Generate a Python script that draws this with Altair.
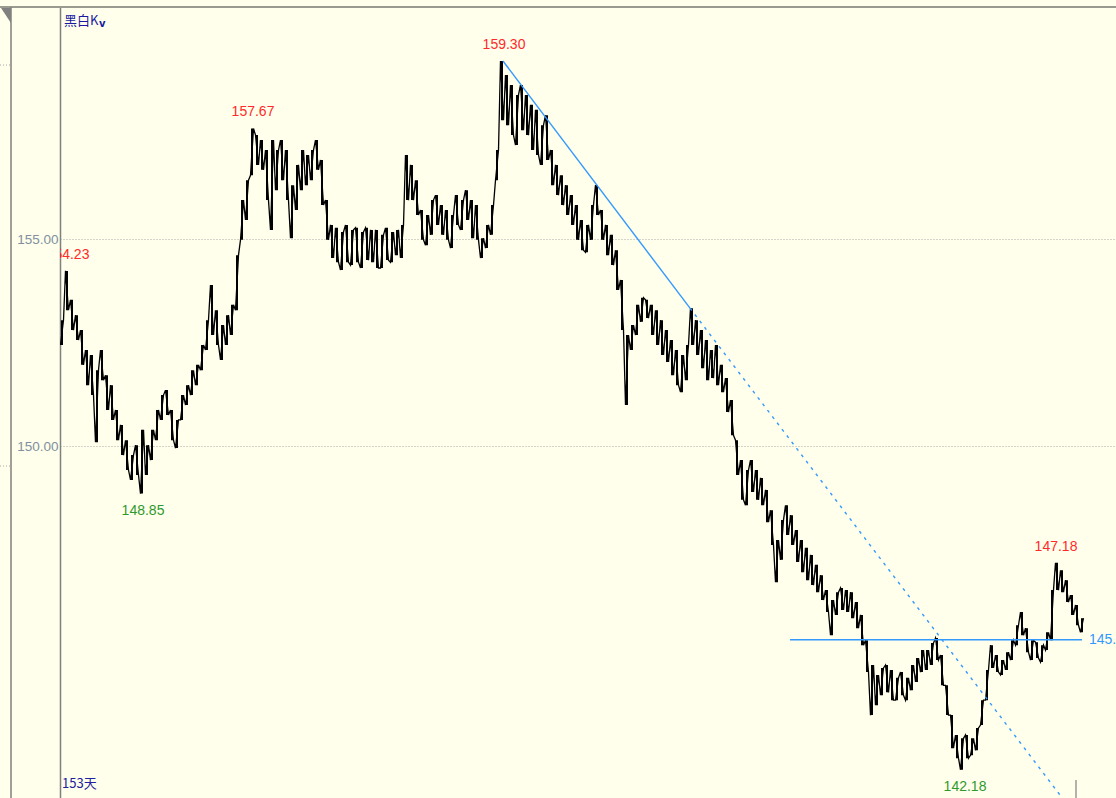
import altair as alt
import pandas as pd

# ---- price bars (high / low), one bar per step ----
high = [153.04, 154.23, 153.53, 153.16, 152.80, 152.32, 152.20, 151.83, 152.32, 151.71,
        151.47, 150.87, 150.51, 150.14, 149.78, 150.02, 150.39, 150.02, 150.39, 150.87,
        151.23, 151.35, 150.87, 150.63, 151.23, 151.47, 151.83, 151.96, 152.44, 153.04,
        153.89, 153.28, 152.92, 153.16, 153.41, 154.61, 155.94, 156.42, 157.67, 157.51,
        157.39, 157.15, 157.39, 157.15, 157.39, 157.15, 156.30, 156.79, 157.15, 157.03,
        157.15, 157.39, 156.91, 155.94, 155.34, 155.27, 155.17, 155.34, 155.22, 155.27,
        155.17, 155.27, 155.22, 155.22, 155.10, 155.27, 155.17, 155.22, 155.34, 157.03,
        156.79, 156.42, 155.70, 155.58, 155.94, 156.06, 155.82, 155.70, 155.58, 156.06,
        155.94, 156.18, 155.94, 155.82, 155.02, 155.34, 155.82, 157.15, 159.30, 158.96,
        158.72, 158.48, 158.72, 158.48, 158.24, 158.12, 157.75, 157.99, 157.15, 156.79,
        156.54, 156.30, 156.06, 155.82, 155.46, 155.34, 155.82, 156.30, 155.70, 155.34,
        155.10, 154.73, 154.01, 152.68, 152.92, 153.41, 153.58, 153.53, 153.41, 153.28,
        153.04, 152.80, 152.56, 152.32, 152.20, 152.44, 153.33, 153.04, 152.80, 152.56,
        152.32, 152.44, 151.96, 151.64, 151.11, 150.14, 149.66, 149.42, 149.66, 149.42,
        149.23, 148.94, 148.45, 147.73, 148.21, 148.57, 148.33, 147.97, 147.73, 147.54,
        147.37, 147.13, 146.88, 146.52, 146.28, 146.47, 146.57, 146.52, 146.47, 146.23,
        145.92, 145.31, 144.71, 144.47, 144.64, 144.71, 144.59, 144.40, 144.54, 144.40,
        144.71, 144.88, 145.07, 145.07, 145.24, 145.36, 144.95, 144.22, 143.50, 143.02,
        142.94, 143.02, 142.94, 143.19, 143.86, 144.59, 145.19, 144.95, 144.83, 145.02,
        145.31, 145.67, 145.99, 145.60, 145.31, 145.26, 145.19, 145.50, 146.52, 147.18,
        147.00, 146.76, 146.40, 146.16, 145.84]
low = [152.44, 153.28, 152.80, 152.56, 151.96, 151.47, 151.23, 150.09, 151.59, 150.87,
       150.63, 150.14, 149.78, 149.42, 149.18, 149.30, 148.85, 149.30, 149.66, 150.14,
       150.63, 150.75, 150.14, 149.95, 150.63, 150.99, 151.23, 151.47, 151.83, 152.32,
       152.68, 152.44, 152.08, 152.44, 152.68, 153.28, 154.98, 155.46, 156.54, 156.79,
       156.67, 155.94, 155.22, 156.18, 156.42, 155.94, 155.02, 155.70, 156.18, 156.30,
       156.42, 156.67, 155.82, 154.98, 154.54, 154.44, 154.25, 154.44, 154.37, 154.44,
       154.30, 154.49, 154.44, 154.30, 154.30, 154.49, 154.44, 154.61, 154.54, 155.94,
       155.94, 155.58, 154.98, 154.85, 155.10, 155.34, 155.10, 154.98, 154.78, 155.34,
       155.22, 155.46, 155.02, 154.98, 154.54, 154.78, 155.10, 156.42, 157.87, 157.75,
       157.51, 157.27, 157.63, 157.51, 157.15, 157.03, 156.79, 156.91, 156.30, 156.06,
       155.82, 155.58, 155.34, 154.98, 154.73, 154.68, 154.98, 155.58, 154.98, 154.61,
       154.37, 153.77, 152.80, 150.99, 152.32, 152.68, 153.00, 153.09, 152.68, 152.44,
       152.20, 152.03, 151.71, 151.47, 151.30, 151.59, 152.44, 152.20, 151.88, 151.59,
       151.64, 151.47, 151.30, 150.82, 150.26, 149.30, 148.70, 148.57, 148.89, 148.70,
       148.57, 148.16, 147.61, 146.71, 147.25, 147.85, 147.61, 147.20, 146.95, 146.76,
       146.64, 146.47, 146.28, 145.99, 145.43, 145.92, 146.04, 145.99, 145.84, 145.60,
       145.19, 144.54, 143.50, 143.74, 143.98, 144.05, 143.86, 143.86, 143.98, 143.86,
       144.10, 144.30, 144.54, 144.59, 144.71, 144.83, 144.22, 143.50, 142.70, 142.46,
       142.18, 142.46, 142.53, 142.65, 143.26, 143.86, 144.64, 144.54, 144.47, 144.59,
       144.83, 145.19, 145.43, 145.02, 144.83, 144.88, 144.78, 145.07, 145.31, 146.52,
       146.47, 146.23, 145.92, 145.67, 145.50]

# annotations: bar index, price, text, placement
ann_idx = [1.2, 38.2, 88.4, 16.2, 180.6, 198.8]
ann_price = [154.23, 157.67, 159.30, 148.85, 142.18, 147.18]
ann_text = ["154.23", "157.67", "159.30", "148.85", "142.18", "147.18"]
ann_pos = ["above", "above", "above", "below", "below", "above"]

# trend line (from the 159.30 high) and horizontal support line
trend_idx = [88.2, 125.6, 199.6]
trend_price = [159.30, 153.33, 141.57]
hline_idx = [145.6, 204.0]
hline_price = 145.32
hline_label = "145.32"

n = len(high)
bars = pd.DataFrame({"i": list(range(n)), "high": high, "low": low})

# zigzag trace through each bar's extremes
rows = []
seq = 0
for k in range(n):
    mid = (high[k] + low[k]) / 2
    nxt = (high[k + 1] + low[k + 1]) / 2 if k + 1 < n else mid
    pts = [(k - 0.3, low[k]), (k + 0.3, high[k])] if nxt >= mid else [(k - 0.3, high[k]), (k + 0.3, low[k])]
    for x, v in pts:
        rows.append({"x": x, "v": v, "s": seq})
        seq += 1
zig = pd.DataFrame(rows)

BG = "#FFFFEB"
RED = "#FF2A2A"
GREEN = "#2E9A2E"
BLUE = "#3399FF"
NUMF = "Liberation Sans, Arial, sans-serif"

xs = alt.Scale(domain=[-0.4, 210.8], nice=False)
ys = alt.Scale(domain=[141.498, 160.604], nice=False, zero=False)

base_axis = alt.Axis(values=[150, 155], format=".2f", title=None, ticks=False,
                     domain=True, domainColor="#808080", domainWidth=1.5,
                     grid=True, gridColor="#A8A8A8", gridDash=[1, 2], gridWidth=1,
                     labelFont=NUMF, labelFontSize=13.5, labelColor="#8090A0",
                     labelPadding=2, labelBaseline="middle")

rules = alt.Chart(bars).mark_rule(color="black", strokeWidth=2.0, clip=True).encode(
    x=alt.X("i:Q", scale=xs, axis=None),
    y=alt.Y("low:Q", scale=ys, axis=base_axis),
    y2="high:Q",
)

trace = alt.Chart(zig).mark_line(color="black", strokeWidth=1.3, clip=True).encode(
    x=alt.X("x:Q", scale=xs),
    y=alt.Y("v:Q", scale=ys),
    order="s:Q",
)

trend_df = pd.DataFrame({"x": trend_idx, "v": trend_price})
trend_solid = alt.Chart(trend_df.iloc[0:2]).mark_line(color=BLUE, strokeWidth=1.4, clip=True).encode(
    x=alt.X("x:Q", scale=xs), y=alt.Y("v:Q", scale=ys))
trend_dash = alt.Chart(trend_df.iloc[1:3]).mark_line(color=BLUE, strokeWidth=1.4, strokeDash=[3, 5], clip=True).encode(
    x=alt.X("x:Q", scale=xs), y=alt.Y("v:Q", scale=ys))

hdf = pd.DataFrame({"x": hline_idx, "v": [hline_price, hline_price]})
hline = alt.Chart(hdf).mark_line(color=BLUE, strokeWidth=1.6).encode(
    x=alt.X("x:Q", scale=xs), y=alt.Y("v:Q", scale=ys))
hlabel = alt.Chart(pd.DataFrame({"x": [hline_idx[1]], "v": [hline_price], "t": [hline_label]})).mark_text(
    align="left", baseline="middle", dx=7, font=NUMF, fontSize=14, color=BLUE).encode(
    x=alt.X("x:Q", scale=xs), y=alt.Y("v:Q", scale=ys), text="t:N")

ann = pd.DataFrame({"x": ann_idx, "v": ann_price, "t": ann_text, "pos": ann_pos})
ann_above = alt.Chart(ann[ann.pos == "above"]).mark_text(
    align="center", baseline="middle", dy=-16, font=NUMF, fontSize=14, color=RED, clip=True).encode(
    x=alt.X("x:Q", scale=xs), y=alt.Y("v:Q", scale=ys), text="t:N")
ann_below = alt.Chart(ann[ann.pos == "below"]).mark_text(
    align="center", baseline="middle", dy=17, font=NUMF, fontSize=14, color=GREEN, clip=True).encode(
    x=alt.X("x:Q", scale=xs), y=alt.Y("v:Q", scale=ys), text="t:N")

# frame decorations
dummy = pd.DataFrame({"a": [0]})
top_line = alt.Chart(dummy).mark_rule(color="#9A9A90", strokeWidth=2).encode(
    x=alt.value(-60), x2=alt.value(1056), y=alt.value(0))
left_line = alt.Chart(dummy).mark_rule(color="#808080", strokeWidth=1.5).encode(
    x=alt.value(-49), y=alt.value(0), y2=alt.value(791))
left_dots1 = alt.Chart(dummy).mark_rule(color="#A8A8A8", strokeDash=[1, 2]).encode(
    x=alt.value(-60), x2=alt.value(-50), y=alt.value(58))
left_dots2 = alt.Chart(dummy).mark_rule(color="#A8A8A8", strokeDash=[1, 2]).encode(
    x=alt.value(-60), x2=alt.value(-50), y=alt.value(459))
tri = alt.Chart(dummy).mark_point(shape="M-0.66,-1L0.66,-1L0.66,1Z", filled=True, color="#808080",
                                  opacity=1, size=225).encode(x=alt.value(-54), y=alt.value(8.5))
small_tick = alt.Chart(dummy).mark_rule(color="#808080", strokeWidth=1.2).encode(
    x=alt.value(1016), y=alt.value(773), y2=alt.value(791))

title_txt = alt.Chart(dummy).mark_text(align="left", baseline="middle", font="Noto Sans CJK SC",
                                       fontSize=13, color="#1A1AA0").encode(
    x=alt.value(4), y=alt.value(14), text=alt.value("黑白K"))
title_v = alt.Chart(dummy).mark_text(align="left", baseline="middle", font="DejaVu Sans",
                                     fontSize=10, fontWeight="bold", color="#1A1AA0").encode(
    x=alt.value(39), y=alt.value(17), text=alt.value("v"))
days_txt = alt.Chart(dummy).mark_text(align="left", baseline="middle", font="Noto Sans CJK SC",
                                      fontSize=13, color="#2020A0").encode(
    x=alt.value(2), y=alt.value(777), text=alt.value("153天"))

chart = alt.layer(
    rules, trace, trend_solid, trend_dash, hline, hlabel, ann_above, ann_below,
    top_line, left_line, left_dots1, left_dots2, tri, small_tick, title_txt, title_v, days_txt,
).properties(
    width=1056, height=791,
    autosize=alt.AutoSizeParams(type="none"),
    padding={"left": 60, "top": 7, "right": 0, "bottom": 0},
    background=BG,
).configure_view(stroke=None)

chart.save("out.html", embed_options={"renderer": "svg", "actions": False})
